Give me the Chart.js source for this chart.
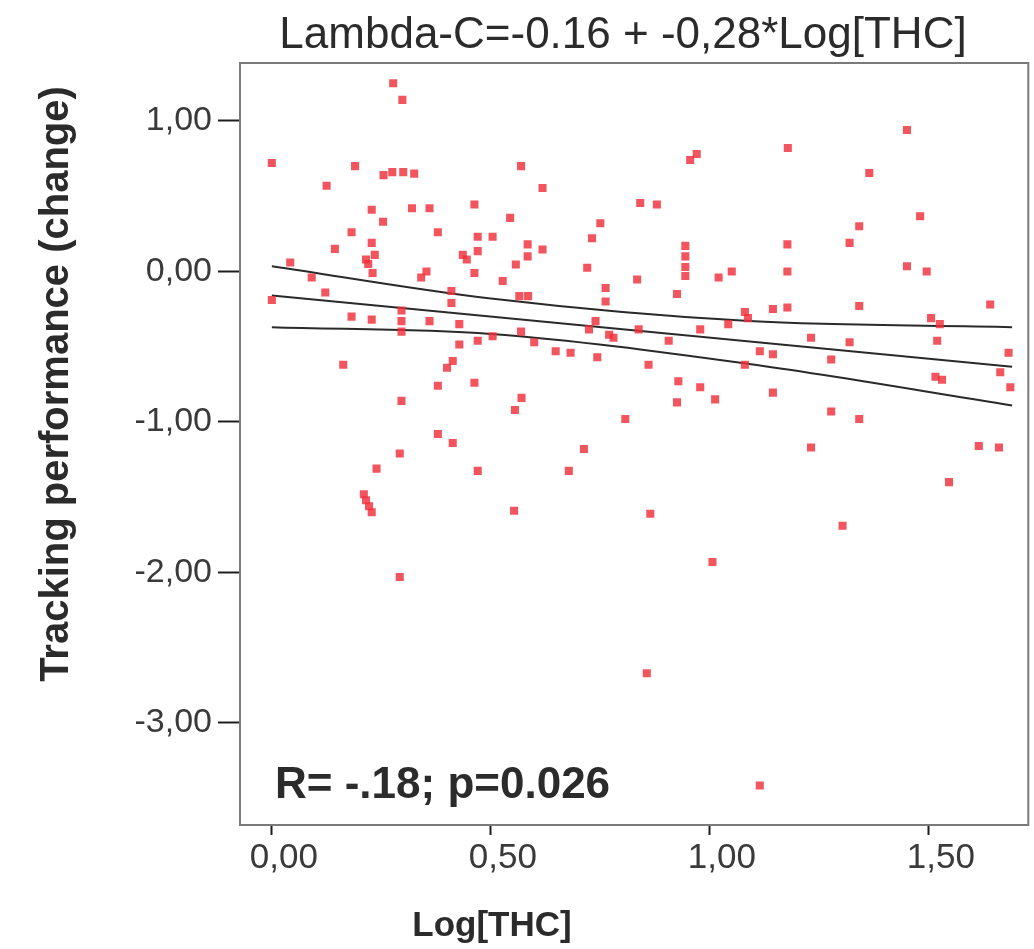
<!DOCTYPE html>
<html>
<head>
<meta charset="utf-8">
<title>Lambda-C vs Log[THC]</title>
<script src="https://cdn.jsdelivr.net/npm/chart.js@4.4.1/dist/chart.umd.min.js"></script>
<style>
  html, body { margin: 0; padding: 0; background: #fff; }
  #wrap { width: 1034px; height: 949px; }
</style>
</head>
<body>
<div id="wrap"><canvas id="thcChart" width="1034" height="949"></canvas></div>
<script>
// Log[THC] (x) and tracking performance change (y)
const thcLog = [
  0.277, 0.298, 0.00, 0.19, 0.255, 0.275, 0.30, 0.325, 0.125, 0.228,
  0.254, 0.32, 0.36, 0.4625, 0.182, 0.379, 0.144, 0.228, 0.235, 0.22,
  0.23, 0.042, 0.091, 0.122, 0.00, 0.353, 0.341, 0.436, 0.445, 0.4625,
  0.41, 0.47, 0.504, 0.47, 0.215,
  0.569, 0.618, 0.955, 0.97, 0.841, 0.879, 0.544, 0.731, 0.75, 0.584,
  0.584, 0.618, 0.557, 0.527, 0.565, 0.585, 0.72, 0.762, 0.762, 0.834,
  0.944, 0.944, 0.944, 0.944, 0.925, 1.02, 1.05, 1.08,
  1.178, 1.45, 1.364, 1.48, 1.341, 1.319, 1.177, 1.177, 1.45, 1.495,
  1.144, 1.177, 1.341, 1.64,
  0.182, 0.228, 0.296, 0.296, 0.36, 0.428, 0.41, 0.428, 0.413, 0.40,
  0.47, 0.504, 0.163, 0.379, 0.4625, 0.296, 0.379, 0.413, 0.292, 0.239,
  0.47, 0.21, 0.215, 0.222, 0.228, 0.292, 0.296,
  0.569, 0.599, 0.648, 0.682, 0.739, 0.724, 0.77, 0.78, 0.743, 0.8375,
  0.906, 0.86, 0.978, 1.042, 1.08, 0.555, 0.57, 0.928, 0.925, 0.978,
  1.012, 0.807, 0.7125, 0.678, 0.553, 0.864, 1.006,
  1.087, 1.505, 1.525, 1.231, 1.319, 1.519, 1.114, 1.144, 1.277, 1.682,
  1.663, 1.686, 1.515, 1.53, 1.144, 1.277, 1.341, 1.231, 1.614, 1.66,
  1.546, 1.303,
  0.856, 1.114
];
const trackingChange = [
  1.25, 1.14, 0.72, 0.70, 0.64, 0.66, 0.66, 0.65, 0.57, 0.41,
  0.33, 0.42, 0.42, 0.445, 0.26, 0.26, 0.15, 0.19, 0.11, 0.05,
  -0.01, 0.06, -0.04, -0.14, -0.19, 0.00, -0.04, 0.11, 0.08, -0.01,
  -0.13, 0.23, 0.23, 0.135, 0.08,
  0.70, 0.555, 0.74, 0.78, 0.455, 0.445, 0.356, 0.22, 0.32, 0.18,
  0.10, 0.146, 0.046, -0.064, -0.164, -0.164, 0.024, -0.11, -0.20, -0.053,
  0.17, 0.10, 0.03, -0.03, -0.15, -0.04, 0.00, -0.27,
  0.82, 0.94, 0.654, 0.367, 0.30, 0.19, 0.18, 0.00, 0.035, 0.00,
  -0.25, -0.24, -0.23, -0.22,
  -0.30, -0.32, -0.26, -0.40, -0.33, -0.35, -0.21, -0.485, -0.595, -0.64,
  -0.46, -0.43, -0.62, -0.76, -0.74, -0.86, -1.08, -1.14, -1.21, -1.31,
  -1.325, -1.48, -1.52, -1.56, -1.60, -2.03, -0.33,
  -0.40, -0.47, -0.53, -0.54, -0.33, -0.385, -0.42, -0.44, -0.57, -0.385,
  -0.46, -0.62, -0.385, -0.35, -0.62, -0.92, -0.84, -0.73, -0.87, -0.77,
  -0.85, -0.98, -1.18, -1.325, -1.59, -1.61, -1.93,
  -0.31, -0.31, -0.35, -0.44, -0.47, -0.46, -0.53, -0.55, -0.585, -0.54,
  -0.67, -0.77, -0.70, -0.72, -0.805, -0.93, -0.98, -1.17, -1.16, -1.17,
  -1.40, -1.69,
  -2.67, -3.415
];

// fitted line and its confidence band
const fitX = [0, 1.69];
const fitY = [-0.16, -0.633];
const bandX = [0, 0.5, 1.09, 1.69];
const upperY = [0.035, -0.18, -0.33, -0.37];
const lowerY = [-0.37, -0.415, -0.615, -0.89];

// axes
const xTickValues = [0, 0.5, 1, 1.5];
const xTickLabels = ['0,00', '0,50', '1,00', '1,50'];
const yTickValues = [1, 0, -1, -2, -3];
const yTickLabels = ['1,00', '0,00', '-1,00', '-2,00', '-3,00'];

const titleText = 'Lambda-C=-0.16 + -0,28*Log[THC]';
const xTitle = 'Log[THC]';
const yTitle = 'Tracking performance (change)';
const statText = 'R= -.18; p=0.026';

const pts = (xs, ys) => xs.map((x, i) => ({ x: x, y: ys[i] }));

const FONT = '"Liberation Sans", Arial, Helvetica, sans-serif';

// frame round the plot area + the free-standing texts
const framePlugin = {
    id: 'frame',
    beforeDatasetsDraw(chart) {
        const a = chart.chartArea;
        const ctx = chart.ctx;
        ctx.save();
        ctx.strokeStyle = '#7a7a7a';
        ctx.lineWidth = 2;
        ctx.strokeRect(a.left, a.top, a.right - a.left, a.bottom - a.top);
        ctx.restore();
    },
    afterDraw(chart) {
        const ctx = chart.ctx;
        ctx.save();
        ctx.fillStyle = '#2b2b2b';

        ctx.font = '44px ' + FONT;
        ctx.textAlign = 'center';
        ctx.textBaseline = 'alphabetic';
        ctx.fillText(titleText, 623, 48);

        ctx.font = 'bold 35px ' + FONT;
        ctx.fillText(xTitle, 492, 936);

        ctx.font = 'bold 44px ' + FONT;
        ctx.textAlign = 'left';
        ctx.fillText(statText, 275, 798);

        ctx.translate(57, 384);
        ctx.rotate(-Math.PI / 2);
        ctx.font = 'bold 40px ' + FONT;
        ctx.textAlign = 'center';
        ctx.textBaseline = 'middle';
        ctx.fillText(yTitle, 0, 0);
        ctx.restore();
    }
};

const lineStyle = {
    showLine: true,
    borderColor: '#2a2a2a',
    borderWidth: 2,
    pointRadius: 0,
    pointHoverRadius: 0,
    fill: false
};

new Chart(document.getElementById('thcChart'), {
    type: 'scatter',
    data: {
        datasets: [
            {
                label: 'Subjects',
                data: pts(thcLog, trackingChange),
                pointStyle: 'rect',
                pointRadius: 5.7,
                pointBackgroundColor: 'rgba(240, 48, 58, 0.82)',
                pointBorderWidth: 0
            },
            Object.assign({ label: 'Fit', data: pts(fitX, fitY) }, lineStyle),
            Object.assign({ label: 'Upper', data: pts(bandX, upperY), cubicInterpolationMode: 'monotone' }, lineStyle),
            Object.assign({ label: 'Lower', data: pts(bandX, lowerY), cubicInterpolationMode: 'monotone' }, lineStyle)
        ]
    },
    options: {
        responsive: false,
        animation: false,
        layout: {
            padding: { top: 63, right: 2, bottom: 0, left: 0 }
        },
        plugins: {
            legend: { display: false },
            tooltip: { enabled: false },
            title: { display: false }
        },
        scales: {
            x: {
                type: 'linear',
                min: -0.0727,
                max: 1.727,
                afterBuildTicks: (scale) => {
                    scale.ticks = xTickValues.map(v => ({ value: v }));
                },
                afterFit: (scale) => { scale.height = 124; },
                grid: {
                    drawOnChartArea: false,
                    drawTicks: true,
                    tickLength: 10,
                    tickColor: '#1e1e1e',
                    tickWidth: 2
                },
                border: { display: true, color: '#7a7a7a', width: 2 },
                ticks: {
                    padding: 2,
                    labelOffset: 12,
                    color: '#3a3a3a',
                    font: { family: FONT, size: 35 },
                    maxRotation: 0,
                    callback: (value) => xTickLabels[xTickValues.indexOf(value)]
                }
            },
            y: {
                type: 'linear',
                min: -3.678,
                max: 1.385,
                afterBuildTicks: (scale) => {
                    scale.ticks = yTickValues.map(v => ({ value: v }));
                },
                afterFit: (scale) => { scale.width = 240; },
                grid: {
                    drawOnChartArea: false,
                    drawTicks: true,
                    tickLength: 22,
                    tickColor: '#1e1e1e',
                    tickWidth: 2
                },
                border: { display: true, color: '#7a7a7a', width: 2 },
                ticks: {
                    padding: 6,
                    color: '#3a3a3a',
                    font: { family: FONT, size: 34 },
                    callback: (value) => yTickLabels[yTickValues.indexOf(value)]
                }
            }
        }
    },
    plugins: [framePlugin]
});
</script>
</body>
</html>
